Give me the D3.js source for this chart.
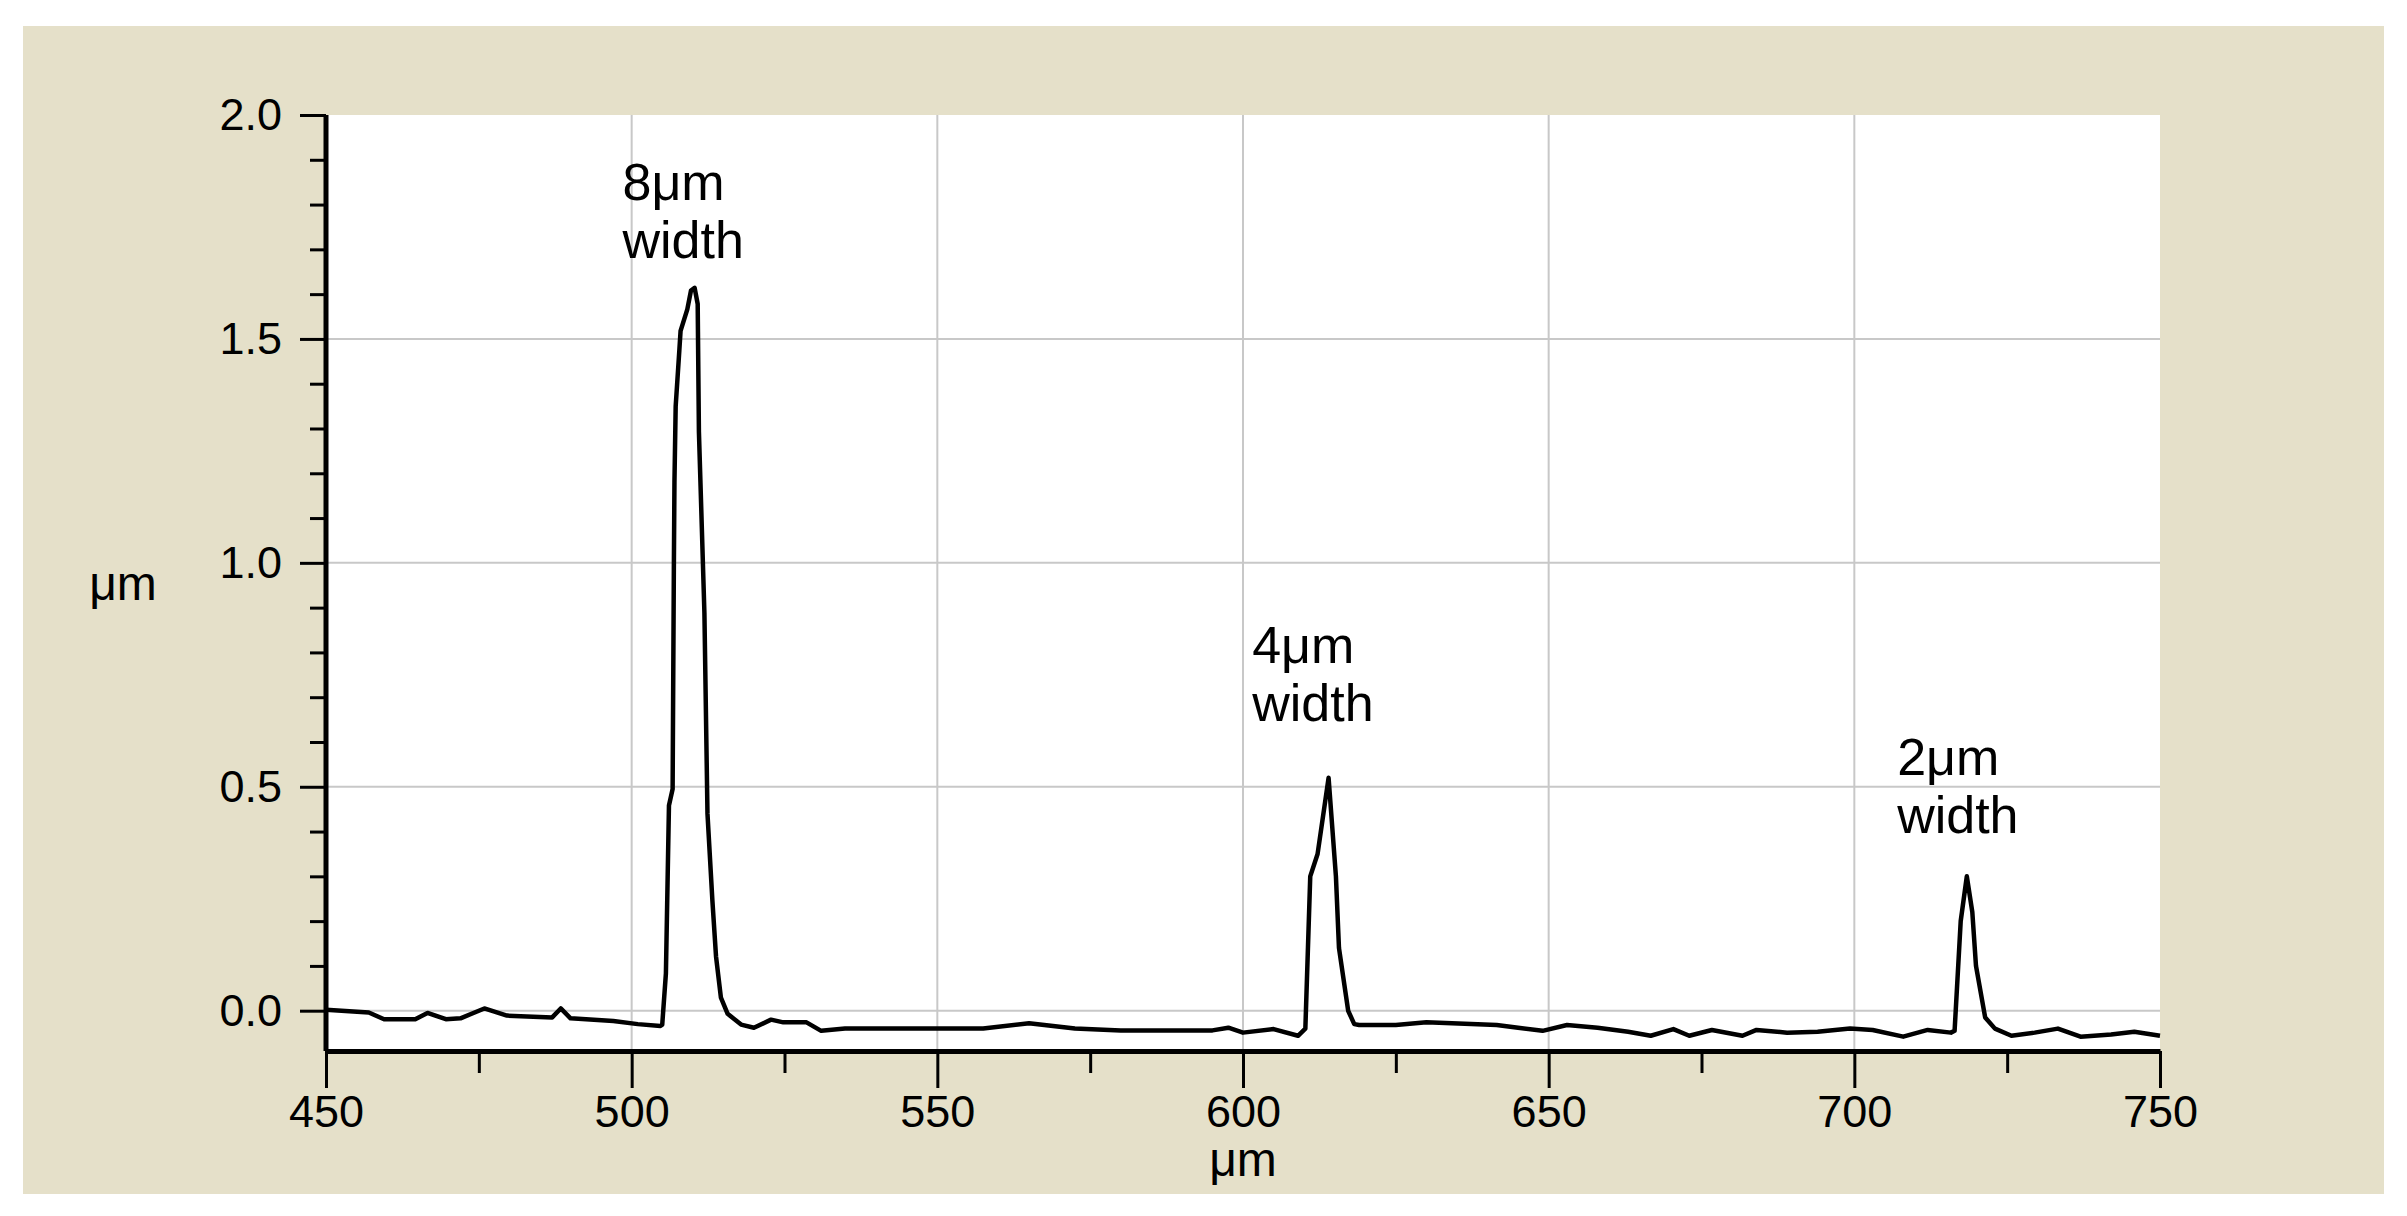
<!DOCTYPE html>
<html><head><meta charset="utf-8">
<script src="https://cdn.jsdelivr.net/npm/d3@7"></script>
<style>body{margin:0;background:#fff}</style></head>
<body><svg id="c" width="2407" height="1216"></svg>
<script>
const xs=[450,457,459.5,464.6,466.6,469.6,472,475.9,479.6,487,488.4,490,497,501,504.7,505,505.6,506.1,506.7,506.9,507.0,507.2,507.8,508.0,509.1,509.7,510.3,510.8,511.0,511.9,512.4,513.2,513.8,514.6,515.7,517.9,520.0,522.8,524.8,528.6,531,534.9,557.5,565,572.5,580,595,597.6,600,605,609,610.2,611,612.2,614,615.2,615.7,617.2,618.2,619,625,630,641.5,645,649,653,658,663,666.7,670.4,673,676.7,681.7,684,689,694,699.3,703,708,712,715.8,716.4,717.4,718.4,719.3,719.9,721.4,723,725.7,729.5,733.3,737,742,745.8,750];
const ys=[0.002,-0.004,-0.019,-0.019,-0.005,-0.019,-0.017,0.005,-0.011,-0.015,0.005,-0.017,-0.023,-0.03,-0.034,-0.031,0.083,0.458,0.495,0.985,1.18,1.35,1.475,1.518,1.566,1.608,1.614,1.578,1.293,0.888,0.44,0.247,0.121,0.029,-0.007,-0.031,-0.038,-0.02,-0.026,-0.026,-0.045,-0.04,-0.04,-0.028,-0.04,-0.044,-0.044,-0.038,-0.049,-0.041,-0.056,-0.04,0.3,0.35,0.52,0.3,0.14,0.0,-0.03,-0.032,-0.032,-0.026,-0.032,-0.038,-0.045,-0.032,-0.038,-0.047,-0.056,-0.041,-0.056,-0.043,-0.056,-0.043,-0.049,-0.047,-0.04,-0.043,-0.058,-0.043,-0.049,-0.045,0.2,0.3,0.22,0.1,-0.015,-0.04,-0.056,-0.049,-0.04,-0.058,-0.053,-0.047,-0.056];
const xTicks=[450,500,550,600,650,700,750];
const yTicks=[0,0.5,1.0,1.5,2.0];
const notes=[{t:["8μm","width"],x:498.5},{t:["4μm","width"],x:601.5},{t:["2μm","width"],x:707}];
const noteY=[1.81,0.776,0.526];

const svg=d3.select("#c");
svg.append("rect").attr("x",23).attr("y",26).attr("width",2361).attr("height",1168).attr("fill","#e5e0c9");
const x=d3.scaleLinear().domain([450,750]).range([326,2160]);
const y=d3.scaleLinear().domain([-0.09,2.0]).range([1051,115]);
svg.append("rect").attr("x",x(450)).attr("y",y(2)).attr("width",x(750)-x(450)).attr("height",y(-0.09)-y(2)).attr("fill","#fff");
const g=svg.append("g");
g.selectAll(".gx").data(xTicks.slice(1,-1)).join("line").attr("x1",d=>x(d)).attr("x2",d=>x(d)).attr("y1",y(2)).attr("y2",y(-0.09)).attr("stroke","#c8c8c8").attr("stroke-width",2);
g.selectAll(".gy").data(yTicks.slice(0,-1)).join("line").attr("y1",d=>y(d)).attr("y2",d=>y(d)).attr("x1",x(450)).attr("x2",x(750)).attr("stroke","#c8c8c8").attr("stroke-width",2);
const line=d3.line().x((d,i)=>x(xs[i])).y(d=>y(d));
svg.append("path").attr("d",line(ys)).attr("fill","none").attr("stroke","#000").attr("stroke-width",4.5).attr("stroke-linejoin","round");
const font="Liberation Sans, Arial, sans-serif";
const ax=svg.append("g").attr("transform",`translate(0,${y(-0.09)})`).call(d3.axisBottom(x).tickValues(d3.range(450,751,25)).tickFormat(d=>xTicks.includes(d)?d:"").tickSize(0).tickPadding(44));
ax.selectAll(".tick").append("line").attr("y2",d=>xTicks.includes(d)?37:22).attr("stroke","#000").attr("stroke-width",3);
ax.select(".domain").attr("stroke-width",5);
ax.selectAll("text").attr("font-size",45).attr("font-family",font).attr("fill","#000");
const ay=svg.append("g").attr("transform",`translate(${x(450)},0)`).call(d3.axisLeft(y).tickValues(d3.range(0,20.5,1).map(d=>d/10)).tickFormat(d=>Math.round(d*10)%5===0?d.toFixed(1):"").tickSize(0).tickPadding(44));
ay.selectAll(".tick").append("line").attr("x2",d=>Math.round(d*10)%5===0?-26:-16).attr("stroke","#000").attr("stroke-width",3);
ay.select(".domain").attr("stroke-width",5).attr("d",`M0,${y(2)}V${y(-0.09)}`);
ay.selectAll("text").attr("font-size",45).attr("font-family",font).attr("fill","#000");
svg.append("text").attr("x",123).attr("y",600).attr("text-anchor","middle").attr("font-size",48).attr("font-family",font).text("μm");
svg.append("text").attr("x",1243).attr("y",1176).attr("text-anchor","middle").attr("font-size",48).attr("font-family",font).text("μm");
notes.forEach((n,i)=>{
  const t=svg.append("text").attr("font-size",52).attr("font-family",font).attr("fill","#000");
  n.t.forEach((s,j)=>t.append("tspan").attr("x",x(n.x)).attr("y",y(noteY[i])+j*58).text(s));
});
</script></body></html>
